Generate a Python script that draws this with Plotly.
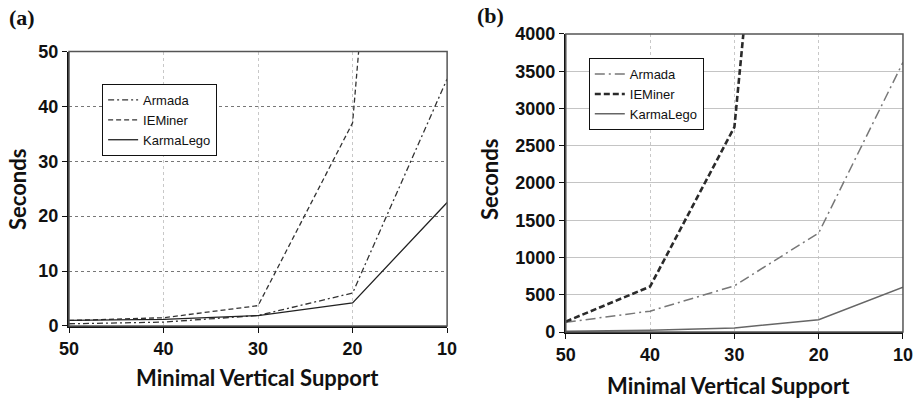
import plotly.graph_objects as go

support = [50, 40, 30, 20, 10]

# Panel (a)
a_armada = [0.4, 0.7, 1.9, 6.0, 45.0]
a_ieminer = [1.0, 1.5, 3.7, 37.0, 240.0]
a_karmalego = [1.0, 1.2, 1.9, 4.2, 22.5]

# Panel (b)
b_armada = [130, 280, 620, 1330, 3620]
b_ieminer = [140, 610, 2750, 14500, 60000]
b_karmalego = [10, 25, 55, 165, 600]

a_yticks = [0, 10, 20, 30, 40, 50]
b_yticks = [0, 500, 1000, 1500, 2000, 2500, 3000, 3500, 4000]

fig = go.Figure()

def add(x, y, name, xa, ya, legend, color, width, dash):
    fig.add_trace(go.Scatter(
        x=x, y=y, name=name, mode="lines", xaxis=xa, yaxis=ya, legend=legend,
        line=dict(color=color, width=width, dash=dash)))

add(support, a_armada, "Armada", "x", "y", "legend", "#333333", 1.3, "6px,3px,2px,3px")
add(support, a_ieminer, "IEMiner", "x", "y", "legend", "#333333", 1.3, "5px,3px")
add(support, a_karmalego, "KarmaLego", "x", "y", "legend", "#222222", 1.3, "solid")

add(support, b_armada, "Armada", "x2", "y2", "legend2", "#777777", 1.5, "10px,4px,2px,4px")
add(support, b_ieminer, "IEMiner", "x2", "y2", "legend2", "#2a2a2a", 2.6, "6px,3px")
add(support, b_karmalego, "KarmaLego", "x2", "y2", "legend2", "#666666", 1.5, "solid")

tickfont = dict(family="Liberation Sans, Arial", size=18, color="#111111", weight="bold")

xcommon = dict(range=[50, 10], tickvals=support, ticktext=[str(v) for v in support],
               showline=True, linecolor="#111111", linewidth=2,
               ticks="outside", ticklen=5, tickcolor="#111111",
               showgrid=True, gridcolor="#c8c8c8", griddash="dot", gridwidth=1,
               zeroline=False, tickfont=tickfont, fixedrange=True, automargin=False)

fig.update_layout(
    width=920, height=398,
    margin=dict(l=0, r=0, t=0, b=0, autoexpand=False),
    paper_bgcolor="white", plot_bgcolor="white",
    showlegend=True,
    xaxis=dict(domain=[0.075, 0.486], anchor="y", **xcommon),
    yaxis=dict(domain=[0.181, 0.8706], anchor="x", range=[0, 50], tickvals=a_yticks,
               showline=True, linecolor="#111111", linewidth=2,
               ticks="outside", ticklen=5, tickcolor="#111111",
               showgrid=True, gridcolor="#777777", griddash="dot", gridwidth=1,
               zeroline=False, tickfont=tickfont, fixedrange=True, automargin=False),
    xaxis2=dict(domain=[0.615, 0.9815], anchor="y2", **xcommon),
    yaxis2=dict(domain=[0.1658, 0.9146], anchor="x2", range=[0, 4000], tickvals=b_yticks,
                showline=True, linecolor="#111111", linewidth=2,
                ticks="outside", ticklen=5, tickcolor="#111111",
                showgrid=True, gridcolor="#c4c4c4", gridwidth=1,
                zeroline=False, tickfont=tickfont, fixedrange=True, automargin=False),
    legend=dict(x=0.111, y=0.789, xanchor="left", yanchor="top",
                bgcolor="white", bordercolor="#111111", borderwidth=1,
                font=dict(family="Liberation Sans, Arial", size=13, color="#111111"),
                itemwidth=30, tracegroupgap=0),
    legend2=dict(x=0.640, y=0.854, xanchor="left", yanchor="top",
                 bgcolor="white", bordercolor="#111111", borderwidth=1,
                 font=dict(family="Liberation Sans, Arial", size=13, color="#111111"),
                 itemwidth=30, tracegroupgap=0),
)

# Frame (top/right)
for xr, yr in [("x domain", "y domain"), ("x2 domain", "y2 domain")]:
    fig.add_shape(type="rect", xref=xr, yref=yr, x0=0, x1=1, y0=0, y1=1,
                  line=dict(color="#555555", width=1.5), layer="above")

titlefont = dict(family="Lato, Open Sans", size=22, color="#111111", weight="bold")
ann = [
    dict(text="(a)", x=22, y=17, font=dict(family="Liberation Serif, Times New Roman", size=22, color="#111111", weight="bold")),
    dict(text="(b)", x=490, y=16, font=dict(family="Liberation Serif, Times New Roman", size=22, color="#111111", weight="bold")),
    dict(text="Minimal Vertical Support", x=257, y=377, font=titlefont),
    dict(text="Minimal Vertical Support", x=728, y=385, font=titlefont),
    dict(text="Seconds", x=18, y=190, font=titlefont, textangle=-90),
    dict(text="Seconds", x=490, y=180, font=titlefont, textangle=-90),
]
for a in ann:
    fig.add_annotation(text=a["text"], xref="paper", yref="paper",
                       x=a["x"] / 920, y=1 - a["y"] / 398,
                       xanchor="center", yanchor="middle", showarrow=False,
                       font=a["font"], textangle=a.get("textangle", 0))

fig.write_html("out.html", config={"displayModeBar": False},
               post_script="document.body.style.margin='0';document.body.style.padding='0';")
